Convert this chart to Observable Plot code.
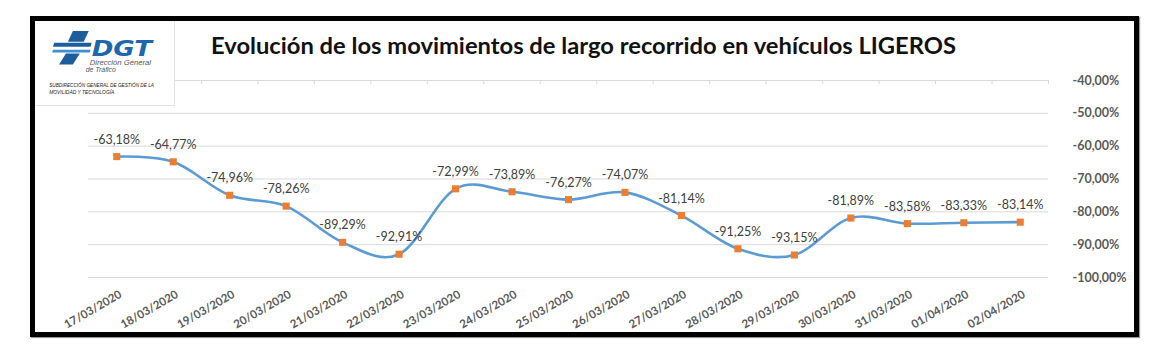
<!DOCTYPE html>
<html>
<head>
<meta charset="utf-8">
<script src="https://cdn.jsdelivr.net/npm/d3@7"></script>
<script src="https://cdn.jsdelivr.net/npm/@observablehq/plot@0.6"></script>
<style>
  html, body { margin: 0; padding: 0; background: #fff; }
  #wrap { position: relative; width: 1169px; height: 359px; overflow: hidden; font-family: Lato, "Open Sans", sans-serif; }
  #chart { position: absolute; left: 0; top: 0; }
  #frame { position: absolute; left: 30px; top: 16px; width: 1099px; height: 311px; border: 5px solid #000; box-shadow: 1px 1px 1px #999; }
  #logo { position: absolute; left: 35px; top: 21px; width: 139px; height: 84px; background: #fff; border-right: 1px solid #e3e3e3; border-bottom: 1px solid #e3e3e3; }
  #title { position: absolute; left: 0; top: 0; }
</style>
</head>
<body>
<div id="wrap">
  <div id="chart"></div>
  <div id="frame"></div>
  <svg id="logo" width="140" height="85" viewBox="0 0 140 85">
    <polygon points="38,10 54,10 49,21 33,21" fill="#1c5d9c"/>
    <polygon points="19,22 57,22 56,26 18,26" fill="#1c5d9c"/>
    <polygon points="18,29 56,29 55,32 17,32" fill="#3b8fd2"/>
    <polygon points="31,33 45,33 38,44 24,44" fill="#1c5d9c"/>
    <text x="57" y="35" font-family="'DejaVu Sans', sans-serif" font-weight="bold" font-style="italic" font-size="21" fill="#1d67ae" textLength="61" lengthAdjust="spacingAndGlyphs">DGT</text>
    <text x="55" y="44.5" font-family="'Liberation Sans', sans-serif" font-style="italic" font-size="7" fill="#555" textLength="62" lengthAdjust="spacingAndGlyphs">Dirección General</text>
    <text x="51" y="52" font-family="'Liberation Sans', sans-serif" font-style="italic" font-size="7" fill="#555">de Tráfico</text>
    <text x="14" y="67" font-family="'Liberation Sans Narrow', 'Liberation Sans', sans-serif" font-style="italic" font-size="5" fill="#222" textLength="106" lengthAdjust="spacingAndGlyphs">SUBDIRECCIÓN GENERAL DE GESTIÓN DE LA</text>
    <text x="14" y="74" font-family="'Liberation Sans Narrow', 'Liberation Sans', sans-serif" font-style="italic" font-size="5" fill="#222" textLength="66" lengthAdjust="spacingAndGlyphs">MOVILIDAD Y TECNOLOGÍA</text>
  </svg>
  <svg id="title" width="1169" height="70">
    <text x="211" y="54" font-family="Lato, sans-serif" font-weight="bold" font-size="23" fill="#111" textLength="745" lengthAdjust="spacingAndGlyphs">Evolución de los movimientos de largo recorrido en vehículos LIGEROS</text>
  </svg>
</div>
<script>
const dates = ["17/03/2020","18/03/2020","19/03/2020","20/03/2020","21/03/2020","22/03/2020","23/03/2020","24/03/2020","25/03/2020","26/03/2020","27/03/2020","28/03/2020","29/03/2020","30/03/2020","31/03/2020","01/04/2020","02/04/2020"];
const values = [-63.18,-64.77,-74.96,-78.26,-89.29,-92.91,-72.99,-73.89,-76.27,-74.07,-81.14,-91.25,-93.15,-81.89,-83.58,-83.33,-83.14];
const yTicks = [-40,-50,-60,-70,-80,-90,-100];

const fmt = v => v.toFixed(2).replace(".", ",") + "%";
const data = dates.map((d, i) => ({i, date: d, value: values[i]}));
const boundaries = d3.range(dates.length + 1).map(k => k - 0.5);

const chart = Plot.plot({
  width: 1169,
  height: 359,
  marginLeft: 88,
  marginRight: 121,
  marginTop: 80,
  marginBottom: 82,
  x: {type: "linear", domain: [-0.5, dates.length - 0.5], axis: null},
  y: {domain: [-100, -40], axis: null},
  style: {fontFamily: "Lato, 'Open Sans', sans-serif", background: "transparent"},
  marks: [
    Plot.gridY(yTicks, {stroke: "#d9d9d9", strokeOpacity: 1}),
    Plot.ruleX(boundaries, {y1: -40, y2: -41.3, stroke: "#d9d9d9", strokeOpacity: 1}),
    Plot.axisY(yTicks, {anchor: "right", tickSize: 0, tickPadding: 24, tickFormat: fmt, fill: "#595959", fontSize: 12.5, fontWeight: "bold", label: null}),
    Plot.text(data, {x: "i", frameAnchor: "bottom", text: "date", rotate: -30, textAnchor: "end", lineAnchor: "middle", dx: 4, dy: 16, fill: "#595959", fontSize: 11.5, fontWeight: "bold"}),
    Plot.line(data, {x: "i", y: "value", curve: "cardinal", tension: 0, stroke: "#5B9BD5", strokeWidth: 2.6}),
    Plot.dot(data, {x: "i", y: "value", symbol: "square", r: 4, fill: "#ED7D31"}),
    Plot.text(data, {x: "i", y: "value", text: d => fmt(d.value), dy: -17, fill: "#404040", fontSize: 12.5})
  ]
});
document.getElementById("chart").append(chart);
</script>
</body>
</html>
